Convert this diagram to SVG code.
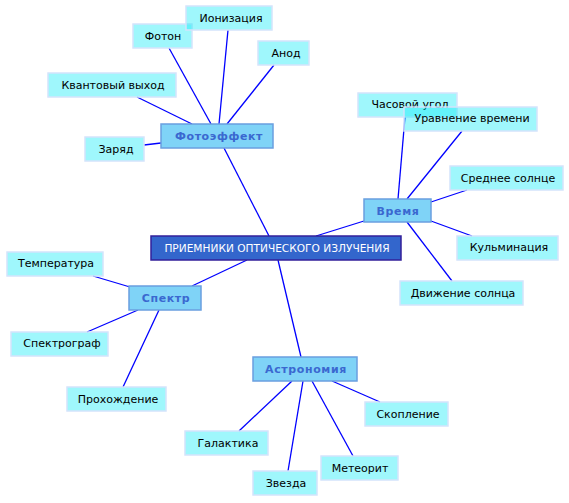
<svg xmlns="http://www.w3.org/2000/svg" width="569" height="503" viewBox="0 0 569 503">
<style>
.bg{fill:#ffffff}
.c line{stroke:#0000ff;stroke-width:1.3}
.leaf rect{fill:#00eaf7;fill-opacity:0.375;stroke:#d4e4fb;stroke-width:1.5}
.leaf text{font-family:"DejaVu Sans",sans-serif;font-size:11px;fill:#000000;text-anchor:middle}
.main rect{fill:#7fd3f7;stroke:#6a9fe0;stroke-width:1.5}
.main text{font-family:"DejaVu Sans",sans-serif;font-size:11px;font-weight:bold;fill:#3a68d0;text-anchor:middle;letter-spacing:0.6px}
.root rect{fill:#3366cc;stroke:#33219a;stroke-width:1.5}
.root text{font-family:"DejaVu Sans",sans-serif;font-size:10.6px;fill:#ffffff;text-anchor:middle}
</style>
<rect class="bg" x="0" y="0" width="569" height="503"/>
<g id="connectors" class="c">
<line x1="269" y1="236" x2="224" y2="148"/>
<line x1="316" y1="236" x2="364" y2="221"/>
<line x1="247" y1="260" x2="192" y2="286"/>
<line x1="278" y1="260" x2="301" y2="357"/>
<line x1="144" y1="145" x2="161" y2="143"/>
<line x1="137" y1="97" x2="192" y2="124"/>
<line x1="169" y1="48" x2="211" y2="124"/>
<line x1="228" y1="30" x2="219" y2="124"/>
<line x1="274" y1="65" x2="227" y2="124"/>
<line x1="405" y1="117" x2="398" y2="199"/>
<line x1="462" y1="131" x2="407" y2="199"/>
<line x1="467" y1="190" x2="431" y2="202"/>
<line x1="431" y1="221" x2="472" y2="236"/>
<line x1="407" y1="222" x2="452" y2="281"/>
<line x1="93" y1="276" x2="130" y2="287"/>
<line x1="138" y1="310" x2="87" y2="332"/>
<line x1="159" y1="310" x2="123" y2="387"/>
<line x1="292" y1="381" x2="239" y2="431"/>
<line x1="303" y1="381" x2="288" y2="471"/>
<line x1="312" y1="381" x2="353" y2="456"/>
<line x1="332" y1="381" x2="380" y2="402"/>
</g>
<g id="root" class="root"><rect x="151" y="236" width="250" height="24"/><text x="277" y="252">ПРИЕМНИКИ ОПТИЧЕСКОГО ИЗЛУЧЕНИЯ</text></g>
<g id="fotoeffekt" class="main"><rect x="161" y="124" width="112" height="24"/><text x="219" y="140">Фотоэффект</text></g>
<g id="vremya" class="main"><rect x="364" y="199" width="67" height="23"/><text x="398" y="215">Время</text></g>
<g id="spektr" class="main"><rect x="129" y="286" width="72" height="24"/><text x="166" y="302">Спектр</text></g>
<g id="astronomiya" class="main"><rect x="253" y="357" width="104" height="24"/><text x="306" y="373">Астрономия</text></g>
<g id="foton" class="leaf"><rect x="133" y="24" width="59" height="24"/><text x="163" y="40">Фотон</text></g>
<g id="ionizaciya" class="leaf"><rect x="186" y="6" width="86" height="24"/><text x="231" y="22">Ионизация</text></g>
<g id="anod" class="leaf"><rect x="258" y="41" width="51" height="24"/><text x="286" y="57">Анод</text></g>
<g id="kvant" class="leaf"><rect x="48" y="73" width="128" height="24"/><text x="113" y="89">Квантовый выход</text></g>
<g id="zaryad" class="leaf"><rect x="85" y="137" width="59" height="24"/><text x="116" y="153">Заряд</text></g>
<g id="chas" class="leaf"><rect x="358" y="93" width="99" height="24"/><text x="410" y="108">Часовой угол</text></g>
<g id="uravnenie" class="leaf"><rect x="404" y="107" width="133" height="24"/><text x="472" y="122">Уравнение времени</text></g>
<g id="srednee" class="leaf"><rect x="450" y="166" width="113" height="24"/><text x="508" y="182">Среднее солнце</text></g>
<g id="kulm" class="leaf"><rect x="457" y="236" width="101" height="24"/><text x="509" y="251">Кульминация</text></g>
<g id="dvizhenie" class="leaf"><rect x="400" y="281" width="123" height="24"/><text x="463" y="297">Движение солнца</text></g>
<g id="temperatura" class="leaf"><rect x="7" y="252" width="96" height="24"/><text x="56" y="267">Температура</text></g>
<g id="spektrograf" class="leaf"><rect x="11" y="332" width="97" height="24"/><text x="62" y="347">Спектрограф</text></g>
<g id="prohozhdenie" class="leaf"><rect x="67" y="387" width="99" height="24"/><text x="118" y="403">Прохождение</text></g>
<g id="galaktika" class="leaf"><rect x="185" y="431" width="83" height="24"/><text x="228" y="447">Галактика</text></g>
<g id="zvezda" class="leaf"><rect x="253" y="471" width="64" height="24"/><text x="286" y="487">Звезда</text></g>
<g id="meteorit" class="leaf"><rect x="321" y="456" width="77" height="24"/><text x="360" y="472">Метеорит</text></g>
<g id="skoplenie" class="leaf"><rect x="365" y="402" width="83" height="24"/><text x="408" y="418">Скопление</text></g>
</svg>
